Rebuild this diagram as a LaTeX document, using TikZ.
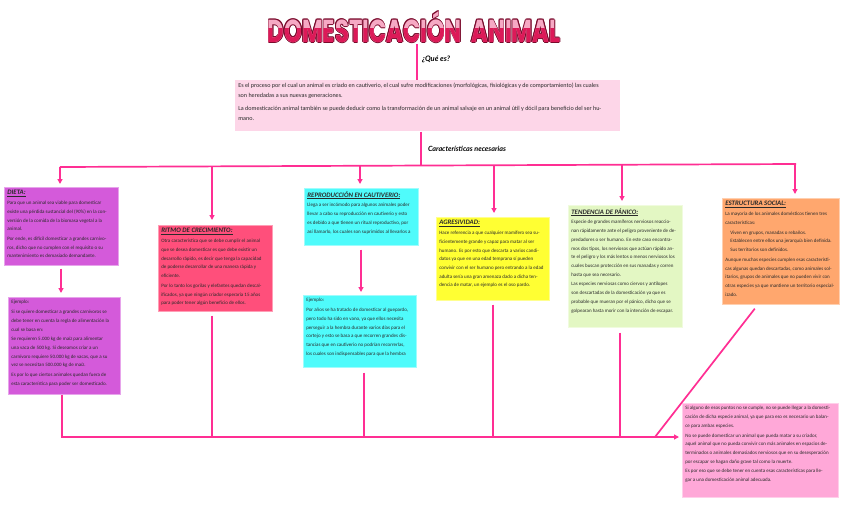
\documentclass[tikz,border=0pt]{standalone}
\usepackage{fontspec}
\usepackage{graphicx}
\setmainfont{Carlito}
\newfontfamily\titlefont{Poppins}
\newfontfamily\brushfont{Lato}
\usetikzlibrary{arrows.meta}
\definecolor{linkpink}{HTML}{FF2E93}
\definecolor{defpink}{HTML}{FDD6E8}
\definecolor{cpurple}{HTML}{D45ADA}
\definecolor{cred}{HTML}{FF4F7B}
\definecolor{ccyan}{HTML}{4FFBFB}
\definecolor{cyellow}{HTML}{FFFF33}
\definecolor{cgreen}{HTML}{E3F7C3}
\definecolor{corange}{HTML}{FFA76E}
\definecolor{cpink}{HTML}{FFA8D8}
\definecolor{txt}{HTML}{2A2A2A}
\definecolor{tdark}{HTML}{7A0A2C}
\definecolor{tlight}{HTML}{F6A9C4}
\definecolor{tdeep}{HTML}{DC1A58}
\newcommand{\titletext}{\resizebox{292pt}{31pt}{\titlefont\bfseries DOMESTICACIÓN\ \ ANIMAL}}
\newcommand{\hd}[1]{{\fontsize{6.8}{8.5}\selectfont\bfseries\itshape\underline{#1}\par}\vspace{1.2pt}}
\newcommand{\pskip}{\par\vspace{1.1pt}}
\newcommand{\bx}[3]{\parbox[c][#2][t]{#1}{\raggedright\fontsize{5}{8.7}\selectfont #3}}
\begin{document}
\begin{tikzpicture}[x=1pt,y=-1pt,
  pinkline/.style={draw=linkpink, line width=1.7pt},
  arr/.style={pinkline, -{Triangle[length=5pt,width=5pt]}},
  box/.style={anchor=north west, inner sep=3pt, text=txt, line width=0.7pt},
  heading/.style={text=black}]
\useasboundingbox (0,0) rectangle (848,509);

% title with outline and two-tone fill
\foreach \dx/\dy in {0.8/0,-0.8/0,0/0.8,0/-0.8,0.6/0.6,-0.6/0.6,0.6/-0.6,-0.6/-0.6}
  \node[inner sep=0, text=tdark] at ([xshift=\dx pt,yshift=\dy pt]414,27) {\titletext};
\node[inner sep=0, text=tlight] (title) at (414,27) {\titletext};
\begin{scope}
  \clip (250,28) rectangle (580,50);
  \node[inner sep=0, text=tdeep] at (414,27) {\titletext};
\end{scope}

% definition
\node[box, fill=defpink, inner sep=3pt] (def) at (235,80)
  {\parbox[c][45pt][t]{379pt}{\raggedright\fontsize{6.1}{10}\selectfont
   Es el proceso por el cual un animal es criado en cautiverio, el cual sufre modificaciones (morfológicas, fisiológicas y de comportamiento) las cuales\\
   son heredadas a sus nuevas generaciones.\par\vspace{2.5pt}
   La domesticación animal también se puede deducir como la transformación de un animal salvaje en un animal útil y dócil para beneficio del ser hu-\\
   mano.}};

\coordinate (q1) at (417,44);
\draw[pinkline] (q1) -- (q1 |- def.north);
\node[heading, inner sep=0] (que) at (436,59) {\resizebox{28pt}{!}{\brushfont\bfseries\itshape ¿Qué es?}};

\coordinate (q2) at (421,166);
\draw[pinkline] (def.south -| q2) -- (q2);
\node[heading, inner sep=0] (carac) at (467,149) {\resizebox{78pt}{!}{\brushfont\bfseries\itshape Características necesarias}};

% boxes
\node[box, fill=cpurple, draw=cpurple!55!white] (dieta) at (4,187) {\bx{108pt}{72pt}{%
\hd{DIETA:}
Para que un animal sea viable para domesticar\\
existe una pérdida sustancial del (90\%) en la con-\\
versión de la comida de la biomasa vegetal a la\\
animal.\pskip
Por ende, es difícil domesticar a grandes carnívo-\\
ros, dicho que no cumplen con el requisito o su\\
mantenimiento es demasiado demandante.}};

\node[box, fill=cpurple, draw=cpurple!55!white] (ej1) at (8,297) {\bx{106pt}{91pt}{%
Ejemplo:\pskip
Si se quiere domesticar a grandes carnívoros se\\
debe tener en cuenta la regla de alimentación la\\
cual se basa en:\pskip
Se requieren 5.000 kg de maíz para alimentar\\
una vaca de 500 kg. Si deseamos criar a un\\
carnívoro requiere 50.000 kg de vacas, que a su\\
vez se necesitan 500.000 kg de maíz.\pskip
Es por lo que ciertos animales quedan fuera de\\
esta característica para poder ser domesticado.}};

\node[box, fill=cred, draw=cred!55!white] (ritmo) at (158,225) {\bx{108pt}{80pt}{%
\hd{RITMO DE CRECIMIENTO:}
Otra característica que se debe cumplir el animal\\
que se desea domesticar es que debe existir un\\
desarrollo rápido, es decir que tenga la capacidad\\
de poderse desarrollar de una manera rápida y\\
eficiente.\pskip
Por lo tanto los gorilas y elefantes quedan descal-\\
ificados, ya que ningún criador esperaría 15 años\\
para poder tener algún beneficio de ellos.}};

\node[box, fill=ccyan, draw=ccyan!55!white] (repro) at (304,188) {\bx{108pt}{51pt}{%
\hd{REPRODUCCIÓN EN CAUTIVERIO:}
Llega a ser incómodo para algunos animales poder\\
llevar a cabo su reproducción en cautiverio y esto\\
es debido a que tienen un ritual reproductivo, por\\
así llamarlo, los cuales son suprimidos al llevarlos a}};

\node[box, fill=ccyan, draw=ccyan!55!white] (ej2) at (303,295) {\bx{107pt}{66pt}{%
Ejemplo:\pskip
Por años se ha tratado de domesticar al guepardo,\\
pero todo ha sido en vano, ya que ellos necesita\\
perseguir a la hembra durante varios días para el\\
cortejo y esto se basa a que recorren grandes dis-\\
tancias que en cautiverio no podrían recorrerlas,\\
los cuales son indispensables para que la hembra}};

\node[box, fill=cyellow, draw=cyellow!55!white] (agre) at (436,217) {\bx{107pt}{77pt}{%
\hd{AGRESIVIDAD:}
Hace referencia a que cualquier mamífero sea su-\\
ficientemente grande y capaz para matar al ser\\
humano. Es por esto que descarta a varios candi-\\
datos ya que en una edad temprana sí pueden\\
convivir con el ser humano pero entrando a la edad\\
adulta sería una gran amenaza dado a dicha ten-\\
dencia de matar, un ejemplo es el oso pardo.}};

\node[box, fill=cgreen, draw=cgreen!55!white] (tend) at (568,205) {\bx{108pt}{116pt}{%
\hd{TENDENCIA DE PÁNICO:}
Especie de grandes mamíferos nerviosos reaccio-\\
nan rápidamente ante el peligro proveniente de de-\\
predadores o ser humano. En este caso encontra-\\
mos dos tipos, los nerviosos que actúan rápido an-\\
te el peligro y los más lentos o menos nerviosos los\\
cuales buscan protección en sus manadas y corren\\
hasta que sea necesario.\pskip
Las especies nerviosas como ciervos y antílopes\\
son descartadas de la domesticación ya que es\\
probable que mueran por el pánico, dicho que se\\
golpearan hasta morir con la intención de escapar.}};

\node[box, fill=corange, draw=corange!55!white] (estr) at (722,198) {\bx{111pt}{100pt}{%
\hd{ESTRUCTURA SOCIAL:}
La mayoría de los animales domésticos tienen tres\\
características:\pskip
\hspace*{5pt}Viven en grupos, manadas o rebaños.\\
\hspace*{5pt}Establecen entre ellos una jerarquía bien definida.\\
\hspace*{5pt}Sus territorios son definidos.\pskip
Aunque muchas especies cumplen esas característi-\\
cas algunas quedan descartadas, como animales sol-\\
itarios, grupos de animales que no pueden vivir con\\
otras especies ya que mantiene un territorio especial-\\
izado.}};

\node[box, fill=cpink, draw=cpink!55!white] (final) at (682,403) {\bx{150pt}{88pt}{%
Si alguno de esos puntos no se cumple, no se puede llegar a la domesti-\\
cación de dicha especie animal, ya que para eso es necesario un balan-\\
ce para ambas especies.\pskip
No se puede domesticar un animal que pueda matar a su criador,\\
aquel animal que no pueda convivir con más animales en espacios de-\\
terminados o animales demasiados nerviosos que en su desesperación\\
por escapar se hagan daño grave tal como la muerte.\pskip
Es por eso que se debe tener en cuenta esas características para lle-\\
gar a una domesticación animal adecuada.}};

% top distribution line
\coordinate (hl) at (60,167);
\coordinate (hr) at (796,164);
\draw[pinkline] (hl) -- (hr);
\coordinate (d1) at (60,167);
\coordinate (d2) at (212,166.4);
\coordinate (d3) at (360,165.8);
\coordinate (d4) at (494,165.2);
\coordinate (d5) at (622,164.7);
\coordinate (d6) at (795,164);
\draw[arr, shorten >=3pt] (d1) -- (d1 |- dieta.north);
\draw[arr, shorten >=5pt] (d2) -- (d2 |- ritmo.north);
\draw[arr, shorten >=4pt] (d3) -- (d3 |- repro.north);
\draw[arr, shorten >=4pt] (d4) -- (d4 |- agre.north);
\draw[arr, shorten >=4pt] (d5) -- (d5 |- tend.north);
\draw[arr, shorten >=4pt] (d6) -- (d6 |- estr.north);

% box to example
\coordinate (e1) at (61,0);
\coordinate (e2) at (361,0);
\draw[arr, shorten <=3pt, shorten >=4pt] (dieta.south -| e1) -- (ej1.north -| e1);
\draw[arr, shorten <=4pt, shorten >=3pt] (repro.south -| e2) -- (ej2.north -| e2);

% bottom collecting line
\coordinate (bl) at (62,437);
\coordinate (dj) at (655,437);
\draw[arr, shorten >=3pt] (ej1.south -| bl) -- (bl) -- (bl -| final.west);
\draw[pinkline, shorten <=4pt] (ritmo.south -| d2) -- (bl -| d2);
\draw[pinkline, shorten <=5pt] (ej2.south -| 364,0) -- (364,437);
\draw[pinkline, shorten <=4pt] (agre.south -| 493,0) -- (493,437);
\draw[pinkline, shorten <=5pt] (tend.south -| 620,0) -- (620,437);
\draw[pinkline, shorten <=5pt] ([xshift=-23pt]estr.south) -- (dj);
\end{tikzpicture}
\end{document}
